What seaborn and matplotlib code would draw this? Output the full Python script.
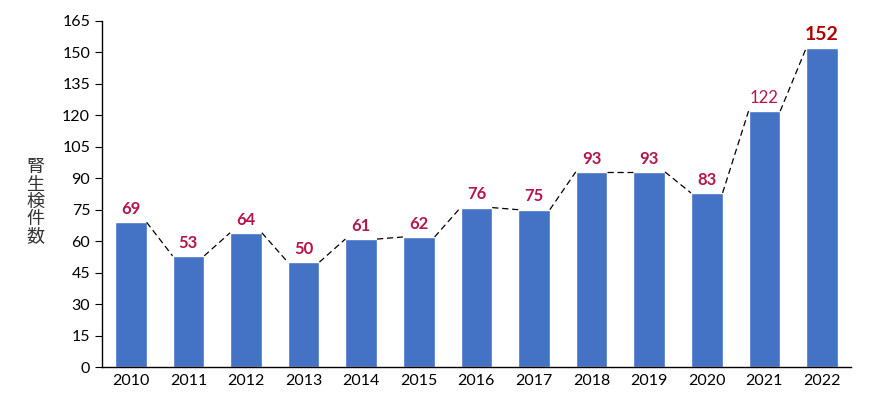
import numpy as np
import matplotlib
matplotlib.use("Agg")
import matplotlib.pyplot as plt
import pandas as pd
import seaborn as sns

years = ['2010', '2011', '2012', '2013', '2014', '2015', '2016',
         '2017', '2018', '2019', '2020', '2021', '2022']
counts = [69, 53, 64, 50, 61, 62, 76, 75, 93, 93, 83, 122, 152]
y_ticks = list(range(0, 166, 15))
y_label = '腎生検件数'

sns.set_style('white')
plt.rcParams['font.family'] = ['Lato', 'Noto Sans CJK JP', 'DejaVu Sans']

df = pd.DataFrame({'year': years, 'count': counts})

fig = plt.figure(figsize=(8.83, 3.96), dpi=100)
ax = fig.add_axes([0.1155, 0.0732, 0.848, 0.874])

sns.barplot(data=df, x='year', y='count', color='#4472C4', width=0.55,
            saturation=1, ax=ax)

# dashed connector from right top corner of a bar to left top corner of the next
bars = ax.patches
for a, b in zip(bars[:-1], bars[1:]):
    ax.plot([a.get_x() + a.get_width(), b.get_x()],
            [a.get_height(), b.get_height()],
            color='black', lw=0.9, ls=(0, (5, 3)), zorder=3)

for i, (p, v) in enumerate(zip(bars, counts)):
    cx = p.get_x() + p.get_width() / 2
    if i == len(counts) - 1:
        ax.text(cx, v + 2.5, str(v), ha='center', va='bottom', fontsize=14,
                fontweight='bold', color='#B00000')
    elif i == len(counts) - 2:
        ax.text(cx, v + 2.5, str(v), ha='center', va='bottom', fontsize=12,
                color='#B5164A')
    else:
        ax.text(cx, v + 2.5, str(v), ha='center', va='bottom', fontsize=12,
                fontweight='bold', color='#B5164A')

ax.set_ylim(0, 165)
ax.set_xlim(-0.5, len(years) - 0.5)
ax.set_yticks(y_ticks)
ax.set_xlabel('')
ax.set_ylabel('')
sns.despine(ax=ax)
for s in ['left', 'bottom']:
    ax.spines[s].set_color('black')
    ax.spines[s].set_linewidth(1)
ax.tick_params(axis='y', direction='out', length=5, width=0.8, labelsize=11.5,
               left=True, colors='black')
ax.tick_params(axis='x', length=0, labelsize=11.5, pad=5, colors='black')

fig.text(0.04, 0.49, '\n'.join(y_label), ha='center', va='center',
         fontsize=13, color='#333333', linespacing=0.95,
         family=['Noto Sans CJK JP', 'DejaVu Sans'])

fig.savefig('out.png', dpi=100)
